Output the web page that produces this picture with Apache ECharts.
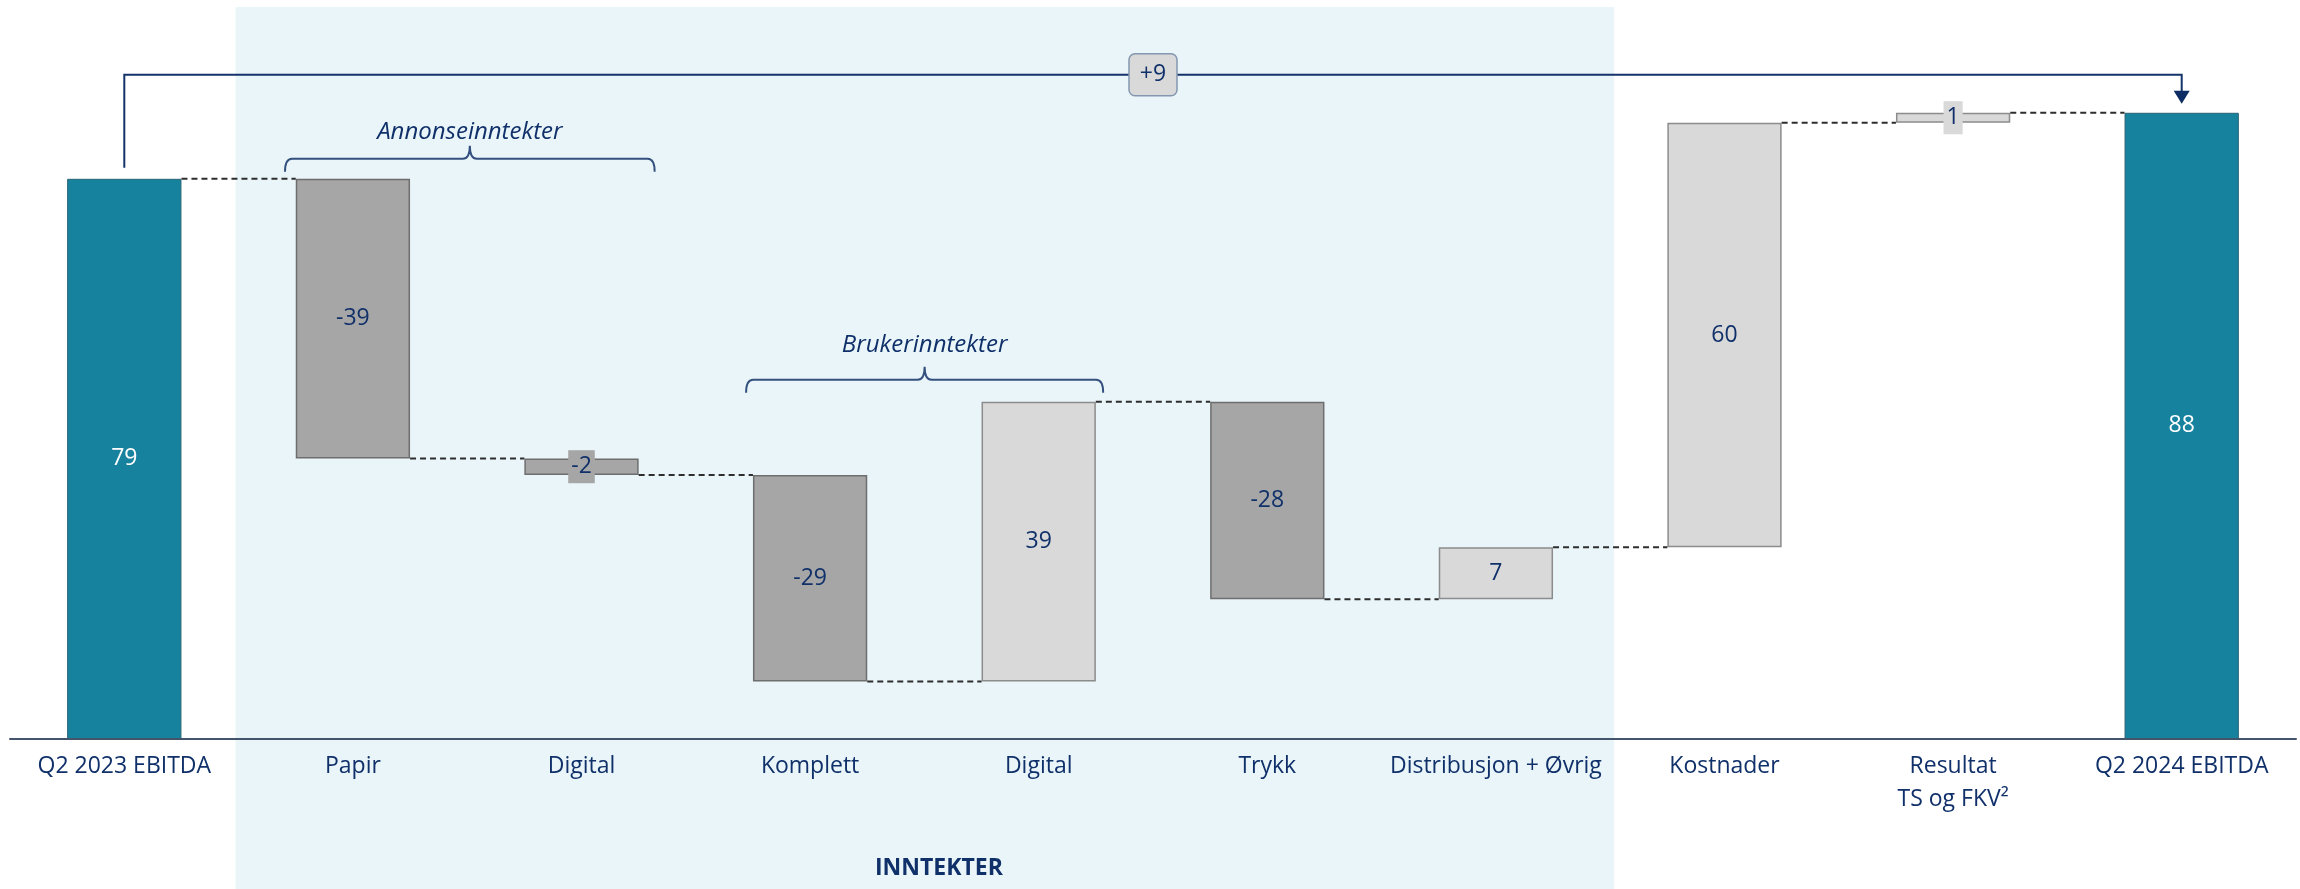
<!DOCTYPE html>
<html>
<head>
<meta charset="utf-8">
<script src="https://cdn.jsdelivr.net/npm/echarts@6/dist/echarts.min.js"></script>
<style>
html,body{margin:0;padding:0;background:#ffffff;}
#chart{width:2300px;height:889px;}
</style>
</head>
<body>
<div id="chart"></div>
<script>
// ---------------- data ----------------
const categories = ['Q2 2023 EBITDA', 'Papir', 'Digital', 'Komplett', 'Digital', 'Trykk',
  'Distribusjon + Øvrig', 'Kostnader', 'Resultat\nTS og FKV²', 'Q2 2024 EBITDA'];
const startValue = 78.9;
const deltas = [-39.4, -2.3, -29.1, 39.4, -27.8, 7.3, 59.8, 1.4];
const groupLabels = ['Annonseinntekter', 'Brukerinntekter'];
const groupRanges = [[1, 2], [3, 4]];
const sectionLabel = 'INNTEKTER';
const sectionRange = [1, 6];

// ---------------- styles ----------------
const FONT = '"Open Sans", "Noto Sans", sans-serif';
const NAVY = '#10306A';
const TEAL = '#17829E';
const DARK = '#A6A6A6';
const LIGHT = '#D9D9D9';
const braceInset = [[0.297, 0.32], [0.28, 0.282]];
const braceGap = [7, 9];
const braceTextOffset = [40, 48];

// ---------------- derived ----------------
const n = categories.length;
const cum = [startValue];
deltas.forEach(d => cum.push(cum[cum.length - 1] + d));
const endValue = cum[cum.length - 1];
const baseData = [0];
const tops = [startValue];
const labelVals = [startValue];
deltas.forEach((d, i) => {
  baseData.push(Math.min(cum[i], cum[i + 1]));
  tops.push(Math.max(cum[i], cum[i + 1]));
  labelVals.push(d);
});
baseData.push(0);
tops.push(endValue);
labelVals.push(endValue);

const barItems = labelVals.map((v, i) => {
  const isTotal = (i === 0 || i === n - 1);
  const fill = isTotal ? TEAL : (v < 0 ? DARK : LIGHT);
  const item = {
    value: isTotal ? v : Math.abs(v),
    itemStyle: {
      color: fill,
      borderColor: isTotal ? '#2A6475' : (v < 0 ? '#6E6E6E' : '#8C8C8C'),
      borderWidth: isTotal ? 1 : 1.5
    },
    label: {
      show: true,
      position: 'inside',
      formatter: () => String(Math.round(v)),
      color: isTotal ? '#FFFFFF' : NAVY,
      fontSize: 23,
      fontFamily: FONT,
      lineHeight: 27
    }
  };
  if (!isTotal && Math.abs(v) < 3) {
    item.label.backgroundColor = fill;
    item.label.padding = [3, 3];
  }
  return item;
});

const chart = echarts.init(document.getElementById('chart'), null, {renderer: 'canvas'});

function renderShade(params, api) {
  const band = api.size([1, 0])[0];
  const X = i => api.coord([i, 0])[0];
  const x1 = X(sectionRange[0]) - band / 2 - 3;
  const x2 = X(sectionRange[1]) + band / 2 + 4;
  const y0 = api.coord([0, 0])[1];
  return {
    type: 'group',
    children: [
      {type: 'rect', shape: {x: x1, y: 7, width: x2 - x1, height: api.getHeight() - 7},
        style: {fill: '#E9F5F8'}},
      {type: 'text', style: {text: sectionLabel, x: (x1 + x2) / 2 + 14, y: y0 + 129,
        align: 'center', verticalAlign: 'middle', fill: NAVY,
        fontSize: 23, fontWeight: 'bold', fontFamily: FONT}}
    ]
  };
}

function renderOverlay(params, api) {
  const band = api.size([1, 0])[0];
  const bw = band * 0.5;
  const X = i => api.coord([i, 0])[0];
  const Y = v => api.coord([0, v])[1];
  const children = [];
  // dashed connectors
  for (let i = 0; i < n - 1; i++) {
    const y = Y(cum[i]);
    children.push({type: 'line',
      shape: {x1: X(i) + bw / 2, y1: y, x2: X(i + 1) - bw / 2, y2: y},
      style: {stroke: '#2E2E2E', lineWidth: 2, lineDash: [6, 4]}});
  }
  // braces
  groupRanges.forEach((r, g) => {
    const x1 = X(r[0]) - band * braceInset[g][0];
    const x2 = X(r[1]) + band * braceInset[g][1];
    let minTop = Infinity;
    for (let i = r[0]; i <= r[1]; i++) minTop = Math.min(minTop, Y(tops[i]));
    const yB = minTop - braceGap[g];
    const yL = yB - 13;
    const yT = yL - 13;
    const xm = (x1 + x2) / 2;
    const path = `M${x1},${yB} Q${x1},${yL} ${x1 + 7},${yL} L${xm - 7},${yL} Q${xm},${yL} ${xm},${yT} ` +
      `Q${xm},${yL} ${xm + 7},${yL} L${x2 - 7},${yL} Q${x2},${yL} ${x2},${yB}`;
    children.push({type: 'path', shape: {pathData: path},
      style: {stroke: '#34507F', lineWidth: 2, fill: null}});
    children.push({type: 'text', style: {text: groupLabels[g], x: xm, y: yB - braceTextOffset[g],
      align: 'center', verticalAlign: 'middle', fill: NAVY,
      fontSize: 24, fontStyle: 'italic', fontFamily: FONT}});
  });
  // total change connector
  const xL = X(0), xR = X(n - 1);
  const yStart = Y(startValue) - 11;
  const yC = Y(endValue) - 38;
  const yTip = Y(endValue) - 9;
  children.push({type: 'polyline',
    shape: {points: [[xL, yStart], [xL, yC], [xR, yC], [xR, yTip - 12]]},
    style: {stroke: '#14336B', lineWidth: 2, fill: null}});
  children.push({type: 'polygon',
    shape: {points: [[xR - 8, yTip - 13], [xR + 8, yTip - 13], [xR, yTip]]},
    style: {fill: '#0E2C64'}});
  const xM = (xL + xR) / 2;
  children.push({type: 'rect', shape: {x: xM - 24, y: yC - 21, width: 48, height: 42, r: 6},
    style: {fill: '#D9D9D9', stroke: '#8497B0', lineWidth: 1.5}});
  const diff = Math.round(endValue - startValue);
  children.push({type: 'text', style: {text: (diff >= 0 ? '+' : '') + diff, x: xM, y: yC,
    align: 'center', verticalAlign: 'middle', fill: NAVY, fontSize: 23, fontFamily: FONT}});
  return {type: 'group', children};
}

chart.setOption({
  animation: false,
  backgroundColor: '#FFFFFF',
  grid: {left: 10, right: 4, top: 29, bottom: 150},
  xAxis: {
    type: 'category',
    data: categories,
    z: 5,
    axisLine: {show: true, lineStyle: {color: '#44546A', width: 2}},
    axisTick: {show: false},
    axisLabel: {interval: 0, color: NAVY, fontSize: 23, fontFamily: FONT, lineHeight: 33, margin: 11}
  },
  yAxis: {type: 'value', min: 0, max: 100, show: false},
  series: [
    {type: 'custom', name: 'shade', z: 1, silent: true, clip: false,
      renderItem: renderShade, data: [[0, 0]]},
    {type: 'bar', name: 'base', stack: 'w', barWidth: '50%', silent: true, z: 2,
      itemStyle: {color: 'rgba(0,0,0,0)'}, data: baseData},
    {type: 'bar', name: 'value', stack: 'w', barWidth: '50%', z: 2, data: barItems},
    {type: 'custom', name: 'overlay', z: 6, silent: true, clip: false,
      renderItem: renderOverlay, data: [[0, 0]]}
  ]
});
</script>
</body>
</html>
